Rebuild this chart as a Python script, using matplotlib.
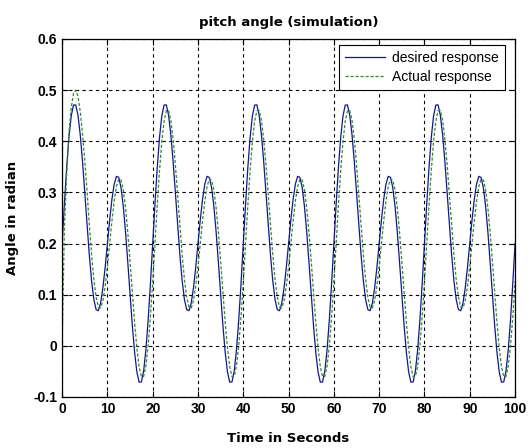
import numpy as np
import matplotlib
matplotlib.use('Agg')
import matplotlib.pyplot as plt

# время, шаг 0.5 с
t = np.arange(0, 100.5, 0.5)

# желаемый отклик
desired = [
    0.2000, 0.2774, 0.3485, 0.4072, 0.4490, 0.4707, 0.4711, 0.4509, 0.4127, 0.3606,
    0.3000, 0.2370, 0.1775, 0.1273, 0.0907, 0.0707, 0.0686, 0.0836, 0.1133, 0.1538,
    0.2000, 0.2462, 0.2867, 0.3164, 0.3314, 0.3293, 0.3093, 0.2727, 0.2225, 0.1630,
    0.1000, 0.0394, -0.0127, -0.0509, -0.0711, -0.0707, -0.0490, -0.0072, 0.0515, 0.1226,
    0.2000, 0.2774, 0.3485, 0.4072, 0.4490, 0.4707, 0.4711, 0.4509, 0.4127, 0.3606,
    0.3000, 0.2370, 0.1775, 0.1273, 0.0907, 0.0707, 0.0686, 0.0836, 0.1133, 0.1538,
    0.2000, 0.2462, 0.2867, 0.3164, 0.3314, 0.3293, 0.3093, 0.2727, 0.2225, 0.1630,
    0.1000, 0.0394, -0.0127, -0.0509, -0.0711, -0.0707, -0.0490, -0.0072, 0.0515, 0.1226,
    0.2000, 0.2774, 0.3485, 0.4072, 0.4490, 0.4707, 0.4711, 0.4509, 0.4127, 0.3606,
    0.3000, 0.2370, 0.1775, 0.1273, 0.0907, 0.0707, 0.0686, 0.0836, 0.1133, 0.1538,
    0.2000, 0.2462, 0.2867, 0.3164, 0.3314, 0.3293, 0.3093, 0.2727, 0.2225, 0.1630,
    0.1000, 0.0394, -0.0127, -0.0509, -0.0711, -0.0707, -0.0490, -0.0072, 0.0515, 0.1226,
    0.2000, 0.2774, 0.3485, 0.4072, 0.4490, 0.4707, 0.4711, 0.4509, 0.4127, 0.3606,
    0.3000, 0.2370, 0.1775, 0.1273, 0.0907, 0.0707, 0.0686, 0.0836, 0.1133, 0.1538,
    0.2000, 0.2462, 0.2867, 0.3164, 0.3314, 0.3293, 0.3093, 0.2727, 0.2225, 0.1630,
    0.1000, 0.0394, -0.0127, -0.0509, -0.0711, -0.0707, -0.0490, -0.0072, 0.0515, 0.1226,
    0.2000, 0.2774, 0.3485, 0.4072, 0.4490, 0.4707, 0.4711, 0.4509, 0.4127, 0.3606,
    0.3000, 0.2370, 0.1775, 0.1273, 0.0907, 0.0707, 0.0686, 0.0836, 0.1133, 0.1538,
    0.2000, 0.2462, 0.2867, 0.3164, 0.3314, 0.3293, 0.3093, 0.2727, 0.2225, 0.1630,
    0.1000, 0.0394, -0.0127, -0.0509, -0.0711, -0.0707, -0.0490, -0.0072, 0.0515, 0.1226,
    0.2000,
]

# фактический отклик
actual = [
    0.0000, 0.2300, 0.3350, 0.4150, 0.4650, 0.4930, 0.5000, 0.4880, 0.4580, 0.4150,
    0.3620, 0.3020, 0.2380, 0.1784, 0.1302, 0.0951, 0.0759, 0.0739, 0.0883, 0.1168,
    0.1556, 0.2000, 0.2444, 0.2832, 0.3117, 0.3261, 0.3241, 0.3049, 0.2698, 0.2216,
    0.1645, 0.1040, 0.0458, -0.0042, -0.0409, -0.0603, -0.0599, -0.0390, 0.0011, 0.0574,
    0.1257, 0.2000, 0.2743, 0.3426, 0.3989, 0.4390, 0.4599, 0.4603, 0.4409, 0.4042,
    0.3542, 0.2960, 0.2355, 0.1784, 0.1302, 0.0951, 0.0759, 0.0739, 0.0883, 0.1168,
    0.1556, 0.2000, 0.2444, 0.2832, 0.3117, 0.3261, 0.3241, 0.3049, 0.2698, 0.2216,
    0.1645, 0.1040, 0.0458, -0.0042, -0.0409, -0.0603, -0.0599, -0.0390, 0.0011, 0.0574,
    0.1257, 0.2000, 0.2743, 0.3426, 0.3989, 0.4390, 0.4599, 0.4603, 0.4409, 0.4042,
    0.3542, 0.2960, 0.2355, 0.1784, 0.1302, 0.0951, 0.0759, 0.0739, 0.0883, 0.1168,
    0.1556, 0.2000, 0.2444, 0.2832, 0.3117, 0.3261, 0.3241, 0.3049, 0.2698, 0.2216,
    0.1645, 0.1040, 0.0458, -0.0042, -0.0409, -0.0603, -0.0599, -0.0390, 0.0011, 0.0574,
    0.1257, 0.2000, 0.2743, 0.3426, 0.3989, 0.4390, 0.4599, 0.4603, 0.4409, 0.4042,
    0.3542, 0.2960, 0.2355, 0.1784, 0.1302, 0.0951, 0.0759, 0.0739, 0.0883, 0.1168,
    0.1556, 0.2000, 0.2444, 0.2832, 0.3117, 0.3261, 0.3241, 0.3049, 0.2698, 0.2216,
    0.1645, 0.1040, 0.0458, -0.0042, -0.0409, -0.0603, -0.0599, -0.0390, 0.0011, 0.0574,
    0.1257, 0.2000, 0.2743, 0.3426, 0.3989, 0.4390, 0.4599, 0.4603, 0.4409, 0.4042,
    0.3542, 0.2960, 0.2355, 0.1784, 0.1302, 0.0951, 0.0759, 0.0739, 0.0883, 0.1168,
    0.1556, 0.2000, 0.2444, 0.2832, 0.3117, 0.3261, 0.3241, 0.3049, 0.2698, 0.2216,
    0.1645, 0.1040, 0.0458, -0.0042, -0.0409, -0.0603, -0.0599, -0.0390, 0.0011, 0.0574,
    0.1257,
]

x_ticks = [0, 10, 20, 30, 40, 50, 60, 70, 80, 90, 100]
y_ticks = [-0.1, 0, 0.1, 0.2, 0.3, 0.4, 0.5, 0.6]
y_labels = ['-0.1', '0', '0.1', '0.2', '0.3', '0.4', '0.5', '0.6']

plt.rcParams['font.family'] = ['Liberation Sans', 'DejaVu Sans']

fig = plt.figure(figsize=(5.31, 4.48), dpi=100)
ax = fig.add_axes([0.117, 0.114, 0.853, 0.799])

ax.plot(t, desired, color='#15158f', lw=0.9, label='desired response')
ax.plot(t, actual, color='#2e8b2e', lw=0.9, linestyle=(0, (2.5, 1.5)), label='Actual response')

ax.set_xlim(0, 100)
ax.set_ylim(-0.1, 0.6)
ax.set_xticks(x_ticks)
ax.set_yticks(y_ticks)
ax.set_yticklabels(y_labels)
ax.grid(True, color='black', linestyle=(0, (3, 3)), linewidth=0.8)
ax.tick_params(direction='in', top=True, right=True, length=4, labelsize=10)
for lab in ax.get_xticklabels() + ax.get_yticklabels():
    lab.set_fontweight('bold')
for sp in ax.spines.values():
    sp.set_linewidth(0.9)

ax.set_title('pitch angle (simulation)', fontsize=9.5, fontweight='bold',
             family='DejaVu Sans', pad=9)
ax.set_xlabel('Time in Seconds', fontsize=9.5, fontweight='bold', family='DejaVu Sans', labelpad=12)
ax.set_ylabel('Angle in radian', fontsize=9.5, fontweight='bold', family='DejaVu Sans', labelpad=10)

leg = ax.legend(loc='upper right', bbox_to_anchor=(0.978, 0.983), fontsize=10,
                fancybox=False, framealpha=1, edgecolor='black', borderaxespad=0,
                handlelength=2.9, handletextpad=0.5, borderpad=0.45, labelspacing=0.35)
leg.get_frame().set_linewidth(0.8)

fig.savefig('out.png', dpi=100)
